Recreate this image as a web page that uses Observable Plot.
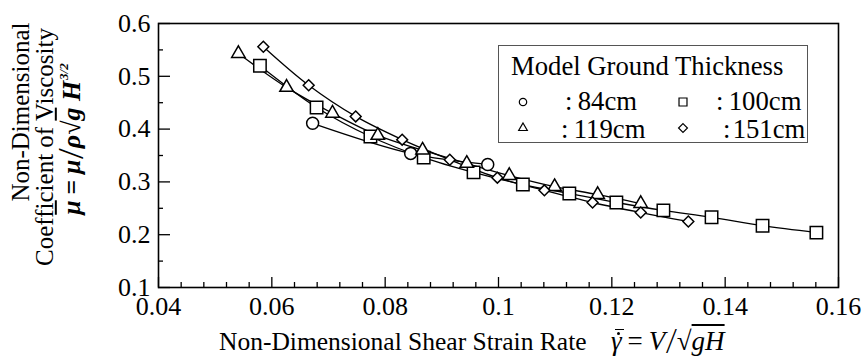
<!DOCTYPE html>
<html><head><meta charset="utf-8">
<script src="https://cdn.jsdelivr.net/npm/d3@7"></script>
<script src="https://cdn.jsdelivr.net/npm/@observablehq/plot@0.6"></script>
<style>
html,body{margin:0;padding:0;background:#fff;}
#wrap{position:relative;width:864px;height:356px;overflow:hidden;font-family:Liberation Serif, serif;color:#000;background:#fff;}
#wrap svg{display:block;}
.t{position:absolute;white-space:nowrap;line-height:1;}
.rot{position:absolute;white-space:nowrap;line-height:1;transform:translate(-50%,-50%) rotate(-90deg);}
.ol{text-decoration:overline;text-decoration-thickness:1.5px;}
.sl{display:inline-block;transform:scaleY(1.35);margin:0 2px;}
.bi{font-weight:bold;font-style:italic;}
.it{font-style:italic;padding-right:4px;}
.eq{margin:0 0.22em;font-style:normal;}
.acc{position:relative;display:inline-block;}
.acc .dot{position:absolute;left:0.22em;top:0.16em;width:3px;height:3px;border-radius:50%;background:#000;}
.acc .bar{position:absolute;left:0.14em;top:0.02em;width:0.36em;border-top:1.5px solid #000;}
sup{font-size:0.5em;vertical-align:0.95em;margin-left:1px;}
</style>
</head><body>
<div id="wrap"></div>
<script>
const seriesNames = ["84cm", "100cm", "119cm", "151cm"];
const x84  = [0.0672, 0.0845, 0.0981];
const y84  = [0.411, 0.354, 0.333];
const x100 = [0.0579, 0.0679, 0.0774, 0.0868, 0.0956, 0.1043, 0.1125, 0.1208, 0.1291, 0.1376, 0.1466, 0.1561];
const y100 = [0.520, 0.441, 0.386, 0.346, 0.318, 0.295, 0.278, 0.261, 0.246, 0.233, 0.217, 0.204];
const x119 = [0.0541, 0.0626, 0.0707, 0.0787, 0.0866, 0.0944, 0.1019, 0.1099, 0.1175, 0.1251];
const y119 = [0.543, 0.479, 0.430, 0.388, 0.360, 0.335, 0.312, 0.291, 0.276, 0.259];
const x151 = [0.0585, 0.0665, 0.0748, 0.0830, 0.0914, 0.0998, 0.1081, 0.1166, 0.1251, 0.1335];
const y151 = [0.556, 0.483, 0.424, 0.380, 0.342, 0.308, 0.284, 0.261, 0.242, 0.225];
const xTicks = [0.04, 0.06, 0.08, 0.1, 0.12, 0.14, 0.16];
const yTicks = [0.1, 0.2, 0.3, 0.4, 0.5, 0.6];
const xMinor = d3.range(0, 31).map(i => +(0.04 + i * 0.004).toFixed(3)).filter(v => !xTicks.some(t => Math.abs(t - v) < 1e-9));
const yMinor = [0.15, 0.25, 0.35, 0.45, 0.55];

const symbols = {"84cm": "circle", "100cm": "square", "119cm": "triangle", "151cm": "diamond2"};
const radii = {"84cm": 6, "100cm": 7, "119cm": 5, "151cm": 4.9};
const legendR = {"84cm": 3.7, "100cm": 4.5, "119cm": 3.2, "151cm": 4.0};

const xs = [x84, x100, x119, x151], ys = [y84, y100, y119, y151];
const rows = seriesNames.flatMap((s, i) => xs[i].map((x, j) => ({s, x, y: ys[i][j]})));

const FONT = `"Liberation Serif", serif`;
const W = 864, H = 356, mL = 158, mR = 26, mT = 23, mB = 69;
const pw = W - mL - mR, ph = H - mT - mB;
const fmt = d => String(+d.toFixed(2));

const chart = Plot.plot({
  width: W, height: H,
  marginLeft: mL, marginRight: mR, marginTop: mT, marginBottom: mB,
  x: {domain: [0.04, 0.16], ticks: xTicks, tickSize: 0, tickPadding: 9, tickFormat: fmt, label: null},
  y: {domain: [0.1, 0.6], ticks: yTicks, tickSize: 0, tickPadding: 8, tickFormat: fmt, label: null},
  style: {fontFamily: FONT, fontSize: "26px", color: "black", background: "white"},
  marks: [
    Plot.tickX(xTicks, {x: d => d, insetTop: ph - 10, stroke: "black", strokeWidth: 1.3}),
    Plot.tickX(xMinor, {x: d => d, insetTop: ph - 5, stroke: "black", strokeWidth: 1.3}),
    Plot.tickY(yTicks, {y: d => d, insetRight: pw - 12, stroke: "black", strokeWidth: 1.3}),
    Plot.tickY(yMinor, {y: d => d, insetRight: pw - 5, stroke: "black", strokeWidth: 1.3}),
    Plot.line(rows, {x: "x", y: "y", z: "s", curve: "catmull-rom", stroke: "black", strokeWidth: 1.3}),
    ...seriesNames.map(s => Plot.dot(rows.filter(d => d.s === s), {x: "x", y: "y", symbol: symbols[s], r: radii[s], fill: "white", stroke: "black", strokeWidth: 1.5})),
    Plot.frame({stroke: "black", strokeWidth: 1.6})
  ]
});
const wrap = document.getElementById("wrap");
wrap.style.fontFamily = FONT;
wrap.appendChild(chart);
chart.querySelectorAll("text").forEach(t => { t.style.fontFamily = FONT; });

function addText(html, cls, style) {
  const d = document.createElement("div");
  d.className = cls;
  d.innerHTML = html;
  Object.assign(d.style, style);
  d.style.fontFamily = FONT;
  wrap.appendChild(d);
  return d;
}

// Y axis title (rotated)
addText("Non-Dimensional", "rot", {left: "20px", top: "112px", fontSize: "25px"});
addText("Coefficient of Viscosity", "rot", {left: "44px", top: "147px", fontSize: "25px"});
addText('<span class="ol">μ</span><span class="eq">=</span>μ<span class="sl">/</span>ρ<span>√<span class="ol">g</span></span>&nbsp;H<sup>3/2</sup>',
  "rot bi", {left: "71px", top: "139px", fontSize: "26px"});

// X axis title
addText("Non-Dimensional Shear Strain Rate", "t", {left: "219px", top: "329px", fontSize: "25.5px"});
addText('<span class="acc">γ<span class="dot"></span><span class="bar"></span></span><span class="eq">=</span>V<span class="sl">/</span><span>√<span class="ol">gH</span></span>',
  "t it", {left: "611px", top: "328px", fontSize: "27px"});

// Legend
const box = document.createElement("div");
Object.assign(box.style, {position: "absolute", left: "498px", top: "45px", width: "310px", height: "98px", border: "1px solid #555", boxSizing: "border-box", background: "white"});
wrap.appendChild(box);
addText("Model Ground Thickness", "t", {left: "511px", top: "53px", fontSize: "26.7px"});
const legendItems = [
  {s: "84cm", cx: 523, cy: 102, tx: 565, ty: 88, label: ":\u200984cm"},
  {s: "100cm", cx: 683, cy: 102, tx: 716, ty: 88, label: ":\u2009100cm"},
  {s: "119cm", cx: 523, cy: 128, tx: 561, ty: 116, label: ":\u2009119cm"},
  {s: "151cm", cx: 683, cy: 128, tx: 723, ty: 116, label: ":\u200a151cm"}
];
const lsvg = d3.select(wrap).append("svg")
  .attr("width", W).attr("height", H)
  .style("position", "absolute").style("left", 0).style("top", 0).style("pointer-events", "none");
const d3sym = {circle: d3.symbolCircle, square: d3.symbolSquare, triangle: d3.symbolTriangle, diamond2: d3.symbolDiamond2};
for (const it of legendItems) {
  const r = legendR[it.s];
  lsvg.append("path")
    .attr("d", d3.symbol(d3sym[symbols[it.s]], Math.PI * r * r)())
    .attr("transform", `translate(${it.cx},${it.cy})`)
    .attr("fill", "white").attr("stroke", "black").attr("stroke-width", 1.2);
  addText(it.label, "t", {left: it.tx + "px", top: it.ty + "px", fontSize: "26.7px"});
}
</script>
</body></html>
